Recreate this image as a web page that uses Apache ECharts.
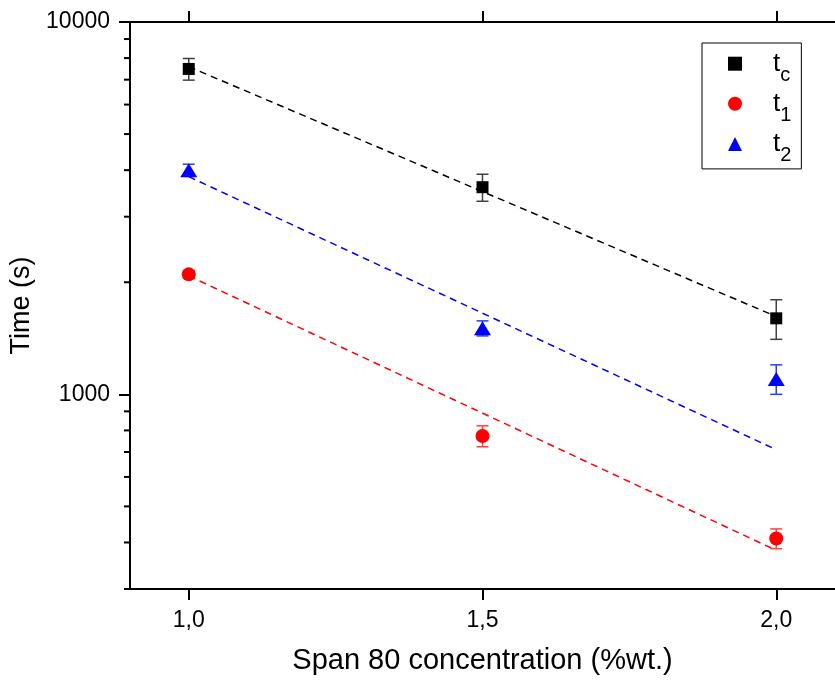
<!DOCTYPE html>
<html>
<head>
<meta charset="utf-8">
<script src="https://cdn.jsdelivr.net/npm/echarts@6/dist/echarts.min.js"></script>
<style>
  html, body { margin: 0; padding: 0; background: #fff; }
  #chart { width: 835px; height: 680px; }
</style>
</head>
<body>
<div id="chart"></div>
<script>
// Span 80 concentration (%wt.)
const concentrations = [1.0, 1.5, 2.0];

// Measured times (s) with their error margins
const tcValues = [7480, 3600, 1600];
const tcErrors = [500, 300, 195];
const t1Values = [2100, 773, 410];
const t1Errors = [50, 50, 25];
const t2Values = [4000, 1505, 1100];
const t2Errors = [150, 70, 100];

// Exponential fits evaluated at both ends of the range
const fitX = [1.0, 2.0];
const tcFit = [7585, 1618];
const t1Fit = [2080, 381];
const t2Fit = [3842, 710];

// Axis ticks
const xMin = 0.9;
const xTicks = [1.0, 1.5, 2.0];
const yMajorTicks = [1000, 10000];
const yMinorTicks = [300, 400, 500, 600, 700, 800, 900, 2000, 3000, 4000, 5000, 6000, 7000, 8000, 9000];

const FONT = 'Liberation Sans, Arial, sans-serif';

function points(xs, ys) { return xs.map((x, i) => [x, ys[i]]); }
function errPoints(xs, ys, es) { return xs.map((x, i) => [x, ys[i], es[i]]); }

function errorSeries(name, data, color) {
  return {
    type: 'custom',
    name: name,
    z: 2,
    silent: true,
    encode: { x: 0, y: 1 },
    data: data,
    renderItem: function (params, api) {
      const x = api.value(0), y = api.value(1), e = api.value(2);
      const hi = api.coord([x, y + e]);
      const lo = api.coord([x, y - e]);
      const half = 6;
      const st = { stroke: color, lineWidth: 1.5 };
      return {
        type: 'group',
        children: [
          { type: 'line', shape: { x1: hi[0], y1: hi[1], x2: lo[0], y2: lo[1] }, style: st },
          { type: 'line', shape: { x1: hi[0] - half, y1: hi[1], x2: hi[0] + half, y2: hi[1] }, style: st },
          { type: 'line', shape: { x1: lo[0] - half, y1: lo[1], x2: lo[0] + half, y2: lo[1] }, style: st }
        ]
      };
    }
  };
}

// Short outward minor ticks of the logarithmic time axis
function minorTickSeries(values) {
  return {
    type: 'custom',
    silent: true,
    clip: false,
    z: 5,
    encode: { x: 0, y: 1 },
    data: values.map(v => [xMin, v]),
    renderItem: function (params, api) {
      const p = api.coord([api.value(0), api.value(1)]);
      return {
        type: 'line',
        shape: { x1: p[0] - 6, y1: p[1], x2: p[0], y2: p[1] },
        style: { stroke: '#000', lineWidth: 2 }
      };
    }
  };
}

function fitSeries(data, color) {
  return {
    type: 'line',
    data: data,
    symbol: 'none',
    silent: true,
    z: 1,
    lineStyle: { color: color, width: 1.5, type: [7, 5] }
  };
}

const chart = echarts.init(document.getElementById('chart'), null, { renderer: 'canvas' });

const axisLineStyle = { color: '#000', width: 2 };

chart.setOption({
  animation: false,
  backgroundColor: '#fff',
  grid: { left: 130, top: 22, width: 710, height: 568, containLabel: false },
  legend: {
    orient: 'vertical',
    left: 702,
    top: 43,
    data: ['tc', 't1', 't2'],
    itemWidth: 14,
    itemHeight: 14,
    itemGap: 5.1,
    padding: [7.7, 10, 3, 26],
    borderColor: '#000',
    borderWidth: 1,
    selectedMode: false,
    formatter: function (name) { return '{t|t}{s|' + name.slice(1) + '}'; },
    textStyle: {
      fontFamily: FONT,
      color: '#000',
      rich: {
        t: { fontSize: 26, lineHeight: 44, fontFamily: FONT, color: '#000', padding: [0, 0, 0, 26] },
        s: { fontSize: 20, lineHeight: 4, fontFamily: FONT, color: '#000', verticalAlign: 'bottom' }
      }
    }
  },
  xAxis: [
    {
      type: 'value',
      position: 'bottom',
      min: xMin,
      max: 2.1,
      splitLine: { show: false },
      axisLine: { lineStyle: axisLineStyle },
      axisTick: { customValues: xTicks, interval: 0, length: 11, inside: false, lineStyle: axisLineStyle },
      axisLabel: {
        customValues: xTicks,
        interval: 0,
        margin: 20,
        fontSize: 23,
        fontFamily: FONT,
        color: '#000',
        formatter: v => v.toFixed(1).replace('.', ',')
      },
      name: 'Span 80 concentration (%wt.)',
      nameLocation: 'middle',
      nameGap: 57,
      nameTextStyle: { fontSize: 29, fontFamily: FONT, color: '#000' }
    },
    {
      type: 'value',
      position: 'top',
      min: xMin,
      max: 2.1,
      splitLine: { show: false },
      axisLine: { lineStyle: axisLineStyle },
      axisTick: { customValues: xTicks, interval: 0, length: 11, inside: false, lineStyle: axisLineStyle },
      axisLabel: { show: false }
    }
  ],
  yAxis: [
    {
      type: 'log',
      logBase: 10,
      position: 'left',
      min: 300,
      max: 10000,
      splitLine: { show: false },
      axisLine: { lineStyle: axisLineStyle },
      axisTick: { customValues: yMajorTicks, interval: 0, length: 11, inside: false, lineStyle: axisLineStyle },
      axisLabel: {
        customValues: yMajorTicks,
        interval: 0,
        margin: 20,
        fontSize: 23,
        fontFamily: FONT,
        color: '#000',
        formatter: v => String(Math.round(v))
      },
      name: 'Time (s)',
      nameLocation: 'middle',
      nameGap: 84,
      nameTextStyle: { fontSize: 27, fontFamily: FONT, color: '#000' }
    }
  ],
  series: [
    minorTickSeries(yMinorTicks),
    fitSeries(points(fitX, tcFit), '#000000'),
    fitSeries(points(fitX, t1Fit), '#ff0000'),
    fitSeries(points(fitX, t2Fit), '#0000ff'),
    errorSeries('tc err', errPoints(concentrations, tcValues, tcErrors), '#404040'),
    errorSeries('t1 err', errPoints(concentrations, t1Values, t1Errors), '#ff4040'),
    errorSeries('t2 err', errPoints(concentrations, t2Values, t2Errors), '#2040ff'),
    {
      name: 'tc', type: 'scatter', z: 3, symbol: 'rect', symbolSize: 12,
      itemStyle: { color: '#000000', opacity: 1 },
      data: points(concentrations, tcValues)
    },
    {
      name: 't1', type: 'scatter', z: 3, symbol: 'circle', symbolSize: 14,
      itemStyle: { color: '#ff0000', opacity: 1 },
      data: points(concentrations, t1Values)
    },
    {
      name: 't2', type: 'scatter', z: 3, symbol: 'triangle', symbolSize: [17, 14],
      itemStyle: { color: '#0000ff', opacity: 1 },
      data: points(concentrations, t2Values)
    }
  ]
});
</script>
</body>
</html>
